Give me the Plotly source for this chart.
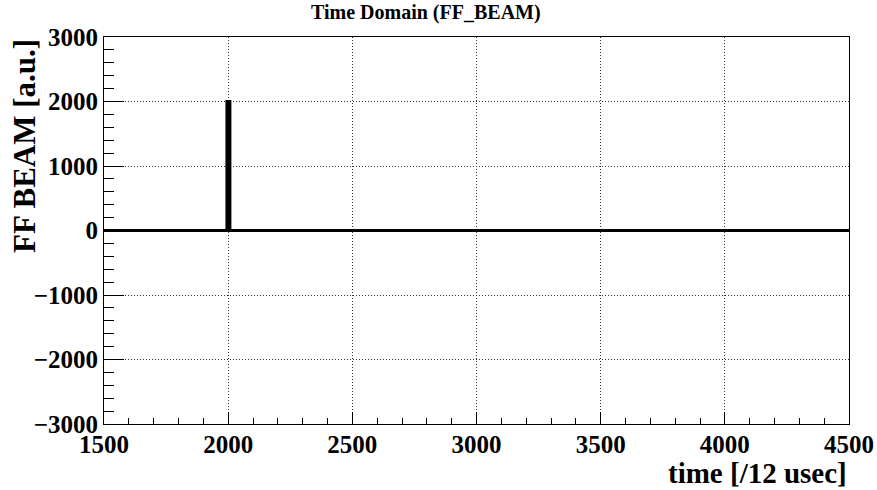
import plotly.graph_objects as go

# Data (time in units of 12 usec, FF BEAM amplitude in a.u.)
time = [1500, 1995, 1995, 2007, 2007, 4500]
amplitude = [0, 0, 2000, 2000, 0, 0]

x_ticks = [1500, 2000, 2500, 3000, 3500, 4000, 4500]
y_ticks = [-3000, -2000, -1000, 0, 1000, 2000, 3000]

title_text = "Time Domain (FF_BEAM)"
x_title = "time [/12 usec]"
y_title = "FF BEAM [a.u.]"

FONT = "Liberation Serif"

fig = go.Figure()
fig.add_trace(go.Scatter(x=time, y=amplitude, mode="lines",
                         line=dict(color="black", width=3),
                         showlegend=False, hoverinfo="skip"))

axis_common = dict(
    showline=True, linecolor="black", linewidth=1, mirror=True,
    ticks="inside", tickcolor="black", tickwidth=1,
    showgrid=True, gridcolor="#333333", griddash="1px,2px", gridwidth=1,
    zeroline=False, automargin=False,
    tickfont=dict(family=FONT, size=25, color="black", weight="bold"),
)

fig.update_layout(
    width=877, height=490,
    margin=dict(l=104, r=28, t=37, b=66),
    paper_bgcolor="white", plot_bgcolor="white",
    xaxis=dict(range=[1500, 4500], tickvals=x_ticks,
               ticktext=[str(v) for v in x_ticks], ticklen=12,
               ticklabelstandoff=-2,
               minor=dict(dtick=100, tick0=1500, ticklen=6, ticks="inside",
                          tickcolor="black", showgrid=False),
               **axis_common),
    yaxis=dict(range=[-3000, 3000], tickvals=y_ticks,
               ticktext=[str(v).replace("-", "\u2212") for v in y_ticks], ticklen=20,
               minor=dict(dtick=200, tick0=-3000, ticklen=10, ticks="inside",
                          tickcolor="black", showgrid=False),
               **axis_common),
    annotations=[
        dict(text=title_text, xref="paper", yref="paper",
             x=(426 - 104) / 745, y=1 + (37 - 13) / 387,
             xanchor="center", yanchor="middle", showarrow=False,
             font=dict(family=FONT, size=20, color="black", weight="bold")),
        dict(text=x_title, xref="paper", yref="paper",
             x=1.0, y=-(473 - 424) / 387,
             xanchor="right", yanchor="middle", showarrow=False,
             font=dict(family=FONT, size=29, color="black", weight="bold")),
        dict(text=y_title, xref="paper", yref="paper",
             x=(24 - 104) / 745, y=1 - (146 - 37) / 387,
             xanchor="center", yanchor="middle", showarrow=False, textangle=-90,
             font=dict(family=FONT, size=31, color="black", weight="bold")),
    ],
)

fig.write_html("out.html")
